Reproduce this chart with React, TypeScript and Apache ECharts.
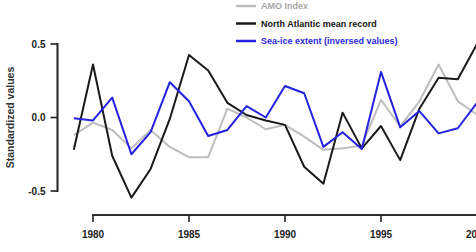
import React, { useEffect, useRef } from "react";
import * as echarts from "echarts";

// Annual values, 1979–2000
const years: number[] = [
  1979, 1980, 1981, 1982, 1983, 1984, 1985, 1986, 1987, 1988, 1989,
  1990, 1991, 1992, 1993, 1994, 1995, 1996, 1997, 1998, 1999, 2000,
];

const amoIndex: number[] = [
  -0.12, -0.035, -0.085, -0.21, -0.085, -0.2, -0.27, -0.27, 0.06, 0.0, -0.08,
  -0.05, -0.13, -0.22, -0.21, -0.19, 0.12, -0.06, 0.11, 0.36, 0.11, 0.02,
];

const northAtlantic: number[] = [
  -0.22, 0.36, -0.26, -0.545, -0.35, -0.01, 0.425, 0.32, 0.1, 0.017, -0.02,
  -0.05, -0.335, -0.45, 0.033, -0.21, -0.058, -0.29, 0.06, 0.27, 0.26, 0.5,
];

const seaIce: number[] = [
  -0.005, -0.02, 0.135, -0.25, -0.1, 0.24, 0.11, -0.126, -0.085, 0.078, 0.0,
  0.214, 0.165, -0.2, -0.1, -0.215, 0.31, -0.067, 0.044, -0.108, -0.073, 0.1,
];

// Labelled axis ranges (the first data year sits left of the year axis)
const xTicks: number[] = [1980, 1985, 1990, 1995, 2000];
const yTicks: number[] = [-0.5, 0.0, 0.5];

const seriesNames = [
  "AMO Index",
  "North Atlantic mean record",
  "Sea-ice extent (inversed values)",
];
const seriesColors = ["#bdbdbd", "#1a1a1a", "#2222e0"];
const legendTextColors = ["#a8a8a8", "#111111", "#2a2ae0"];

const FONT = "'Liberation Sans', Arial, Helvetica, sans-serif";
const AXIS_COLOR = "#222";
const AXIS_WIDTH = 1.6;
const TICK_LEN = 7;

export default function App() {
  const ref = useRef<HTMLDivElement>(null);

  useEffect(() => {
    if (!ref.current) return;
    const chart = echarts.init(ref.current, undefined, { renderer: "svg" });

    const pairs = (vals: number[]) => years.map((y, i) => [y, vals[i]]);
    const allValues = [amoIndex, northAtlantic, seaIce];
    const xTickMin = xTicks[0];
    const xTickMax = xTicks[xTicks.length - 1];
    const yMin = yTicks[0];
    const yMax = yTicks[yTicks.length - 1];

    const pxPerYear = 19.2;
    const xAxisLeft = 93;
    const yAxisX = 57.5;
    const xAxisY = 215;
    const plotLeft = xAxisLeft - (xTickMin - years[0]) * pxPerYear;
    const plotWidth = (years[years.length - 1] - years[0]) * pxPerYear;
    const top = 44;
    const height = 147;

    const tickLabel = () => ({
      fontSize: 10,
      fontWeight: "bold",
      color: AXIS_COLOR,
      fontFamily: FONT,
    });
    const gridBase = () => ({ containLabel: false, outerBoundsMode: "none" });

    // Axis lines drawn as plain two-point lines in the axes' own grids
    const axisLineSeries = (xIdx: number, yIdx: number, data: number[][]) => ({
      type: "line",
      xAxisIndex: xIdx,
      yAxisIndex: yIdx,
      data,
      symbol: "none",
      silent: true,
      clip: false,
      z: 1,
      lineStyle: { color: AXIS_COLOR, width: AXIS_WIDTH, cap: "square" },
      itemStyle: { color: AXIS_COLOR },
    });

    chart.setOption({
      animation: false,
      backgroundColor: "#ffffff",
      textStyle: { fontFamily: FONT },
      grid: [
        // data area, 1979 onwards
        { ...gridBase(), left: plotLeft, top, width: plotWidth, height },
        // value axis, standing off to the left
        { ...gridBase(), left: yAxisX, top, width: plotWidth, height },
        // year axis, standing off below, from 1980
        {
          ...gridBase(),
          left: xAxisLeft,
          top: xAxisY - height,
          width: (xTickMax - xTickMin) * pxPerYear,
          height,
        },
      ],
      legend: {
        orient: "vertical",
        left: 236,
        top: 1,
        icon: "rect",
        itemWidth: 20,
        itemHeight: 2.5,
        itemGap: 7.5,
        padding: 0,
        textStyle: {
          fontFamily: FONT,
          fontSize: 9,
          fontWeight: "bold",
          lineHeight: 10,
        },
        data: seriesNames.map((n, i) => ({
          name: n,
          textStyle: { color: legendTextColors[i] },
        })),
      },
      xAxis: [
        { gridIndex: 0, type: "value", min: years[0], max: years[years.length - 1], show: false },
        { gridIndex: 1, type: "value", min: 0, max: 1, show: false },
        {
          gridIndex: 2,
          type: "value",
          position: "bottom",
          min: xTickMin,
          max: xTickMax,
          interval: xTicks[1] - xTicks[0],
          splitLine: { show: false },
          axisLine: { show: false, onZero: false },
          axisTick: { show: false },
          axisLabel: {
            ...tickLabel(),
            margin: 14,
            showMaxLabel: true,
            showMinLabel: true,
            formatter: (v: number) => String(v),
          },
        },
      ],
      yAxis: [
        { gridIndex: 0, type: "value", min: yMin, max: yMax, show: false },
        {
          gridIndex: 1,
          type: "value",
          position: "left",
          min: yMin,
          max: yMax,
          interval: yTicks[1] - yTicks[0],
          name: "Standardized values",
          nameLocation: "middle",
          nameGap: 42,
          nameRotate: 90,
          nameTextStyle: {
            fontSize: 10.5,
            fontWeight: "bold",
            color: "#333",
            fontFamily: FONT,
          },
          splitLine: { show: false },
          axisLine: { show: false, onZero: false },
          axisTick: { show: false },
          axisLabel: {
            ...tickLabel(),
            margin: 12,
            formatter: (v: number) => v.toFixed(1),
          },
        },
        { gridIndex: 2, type: "value", min: 1, max: 2, show: false },
      ],
      series: [
        ...seriesNames.map((name, i) => ({
          name,
          type: "line",
          xAxisIndex: 0,
          yAxisIndex: 0,
          data: pairs(allValues[i]),
          symbol: "none",
          clip: false,
          z: 2 + i,
          lineStyle: { color: seriesColors[i], width: 2, join: "round" },
          itemStyle: { color: seriesColors[i] },
        })),
        axisLineSeries(1, 1, [[0, yMin], [0, yMax]]),
        axisLineSeries(2, 2, [[xTickMin, 1], [xTickMax, 1]]),
      ],
    });

    // Tick marks, placed through the axes' own scales
    const yLineX = chart.convertToPixel({ xAxisIndex: 1 }, 0) as number;
    const yPx = (v: number) => chart.convertToPixel({ yAxisIndex: 1 }, v) as number;
    const xPx = (v: number) => chart.convertToPixel({ xAxisIndex: 2 }, v) as number;
    const xLineY = chart.convertToPixel({ yAxisIndex: 2 }, 1) as number;
    const half = AXIS_WIDTH / 2;

    const bar = (x: number, y: number, width: number, h: number) => ({
      type: "rect",
      silent: true,
      z: 10,
      shape: { x, y, width, height: h },
      style: { fill: AXIS_COLOR, stroke: null },
    });

    const yTop = Math.min(yPx(yMin), yPx(yMax));
    const yBottom = Math.max(yPx(yMin), yPx(yMax));
    const elements: any[] = [
      bar(yLineX - half, yTop - half, AXIS_WIDTH, yBottom - yTop + AXIS_WIDTH),
      ...yTicks.map((v) => bar(yLineX - TICK_LEN, yPx(v) - half, TICK_LEN, AXIS_WIDTH)),
      bar(xPx(xTickMin) - half, xLineY - half, xPx(xTickMax) - xPx(xTickMin) + AXIS_WIDTH, AXIS_WIDTH),
      ...xTicks.map((v) => bar(xPx(v) - half, xLineY, AXIS_WIDTH, TICK_LEN)),
    ];
    chart.setOption({ graphic: { elements } });

    return () => chart.dispose();
  }, []);

  return (
    <div
      ref={ref}
      style={{ position: "fixed", left: 0, top: 0, width: 476, height: 252 }}
    />
  );
}
